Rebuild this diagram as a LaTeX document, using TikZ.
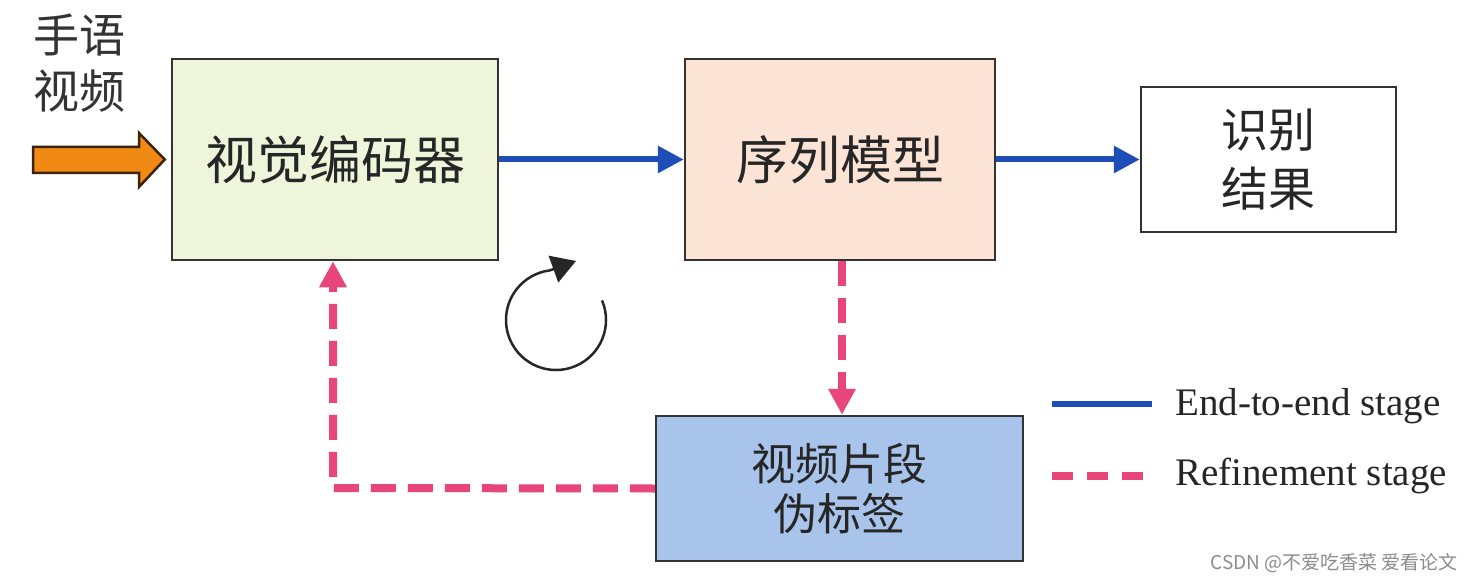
\documentclass[tikz,border=0pt]{standalone}
\usepackage{fontspec}
\setmainfont{Liberation Serif}
\newfontfamily\cjk{Noto Sans CJK SC}
\usetikzlibrary{arrows.meta}
\definecolor{encfill}{HTML}{EEF5DA}
\definecolor{seqfill}{HTML}{FBE3D6}
\definecolor{psfill}{HTML}{A9C4EA}
\definecolor{bluearr}{HTML}{1E4DB8}
\definecolor{pinkarr}{HTML}{E8457A}
\definecolor{orangearr}{HTML}{F08A14}
\definecolor{boxline}{HTML}{333333}
\tikzset{
  blockbox/.style={draw=boxline, line width=2.5pt, inner sep=0pt, align=center, text=black!85},
  e2e/.style={draw=bluearr, line width=6pt, -{Triangle[length=26pt,width=26pt]}},
  refine/.style={draw=pinkarr, line width=8pt, dash pattern=on 25pt off 12pt, -{Triangle[length=26pt,width=26pt]}},
}
\begin{document}
\begin{tikzpicture}[x=1pt,y=1pt]
\useasboundingbox (0,0) rectangle (1473,-583);
\fill[white] (0,0) rectangle (1473,-583);

% input label
\node[align=center, text=black!80, font=\cjk\fontsize{46}{56}\selectfont] (inlab) at (80,-63) {手语\\视频};

% blocks
\node[blockbox, fill=encfill, minimum width=326pt, minimum height=201pt,
      font=\cjk\fontsize{52}{60}\selectfont] (enc) at (335,-159.5) {视觉编码器};
\node[blockbox, fill=seqfill, minimum width=310pt, minimum height=201pt,
      font=\cjk\fontsize{52}{60}\selectfont] (seq) at (840,-159.5) {序列模型};
\node[blockbox, fill=white, minimum width=255pt, minimum height=145pt,
      font=\cjk\fontsize{47}{59}\selectfont] (res) at (1268.5,-159.5) {识别\\结果};
\node[blockbox, fill=psfill, minimum width=367pt, minimum height=145pt,
      font=\cjk\fontsize{44}{50}\selectfont] (ps) at (839.5,-488.5) {视频片段\\伪标签};

% orange input arrow
\coordinate (otip) at ([xshift=-6pt]enc.west);
\draw[fill=orangearr, draw=black!75!orangearr, line width=2.5pt, line join=miter]
  (33,-147) -- (139,-147) -- (139,-133) -- (otip) -- (139,-187) -- (139,-173) -- (33,-173) -- cycle;

% end-to-end arrows
\draw[e2e] (enc.east) -- (seq.west);
\draw[e2e] (seq.east) -- (res.west);

% refinement arrows
\draw[refine] ([xshift=2pt]seq.south) -- ([xshift=2pt]seq.south |- ps.north);
\coordinate (fb) at (333,-488);
\draw[refine] (ps.west) -- (fb) -- (fb |- enc.south);

% circular arrow
\coordinate (cc) at (556,-320);
\coordinate (ctip) at (576,-261);
\draw[line width=2.5pt, black!85, -{Triangle[length=24pt,width=28pt]}]
  ([shift={(23:50pt)}]cc) arc[start angle=23, end angle=-263, radius=50pt] -- (ctip);

% legend
\coordinate (l1a) at (1052,-404);
\coordinate (l1b) at (1152,-404);
\coordinate (l2a) at (1052,-476);
\coordinate (l2b) at (1150,-476);
\draw[bluearr, line width=6pt] (l1a) -- (l1b);
\draw[pinkarr, line width=8pt, dash pattern=on 21pt off 14pt] (l2a) -- (l2b);
\node[anchor=base west, inner sep=0pt, text=black!85, font=\fontsize{39}{44}\selectfont] (leg1) at (1175,-415) {End-to-end stage};
\node[anchor=base west, inner sep=0pt, text=black!85, font=\fontsize{39}{44}\selectfont] (leg2) at (1175,-485) {Refinement stage};

% watermark
\node[anchor=east, inner sep=0pt, text=black!45, font=\cjk\fontsize{19}{22}\selectfont] (wm) at (1458,-563) {CSDN @不爱吃香菜 爱看论文};
\end{tikzpicture}
\end{document}
